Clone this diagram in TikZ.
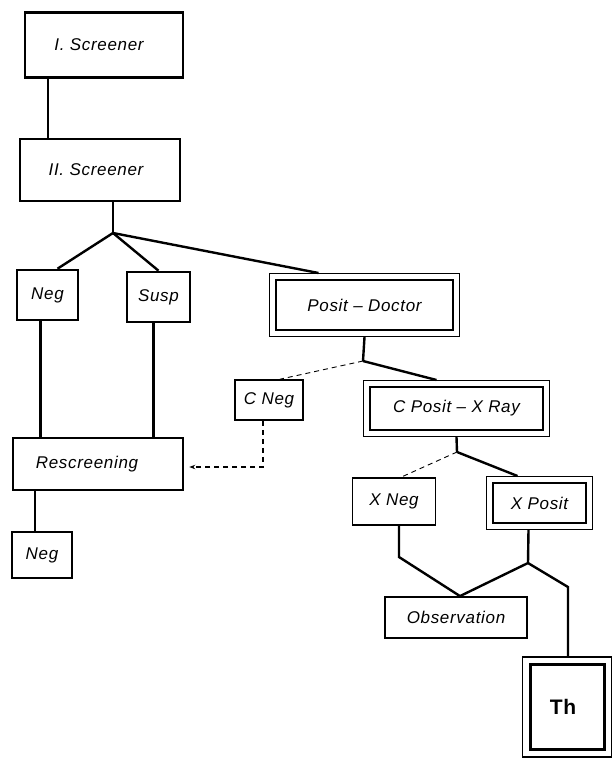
\documentclass[tikz,border=0pt]{standalone}
\usepackage{fontspec}
\setmainfont{Liberation Sans}
\newfontfamily\chartfont{Liberation Sans}[Ligatures=TeX,LetterSpace=4]
\usetikzlibrary{arrows.meta,calc,positioning,fit}
\tikzset{>=Stealth,
  every node/.style={font=\chartfont\fontsize{17}{20}\selectfont\itshape},
  stage/.style={draw,line width=2.6pt,inner sep=0pt},
  outline/.style={draw,line width=1.4pt,inner sep=5pt},
  branch/.style={draw,line width=2.4pt},
  weakbranch/.style={draw,line width=.9pt,dash pattern=on 5pt off 4pt}}
\begin{document}
\begin{tikzpicture}[x=1pt,y=-1pt]
\useasboundingbox (0,0) rectangle (611,758);
% screening stages, sized after the original chart
\node[stage,minimum width=158,minimum height=65] (scr1) at (104,45) {\hspace*{-10pt}I. Screener};
\node[stage,minimum width=160,minimum height=62] (scr2) at (100,170) {\hspace*{-8pt}II. Screener};
\node[stage,minimum width=61,minimum height=50] (neg1) at (47.5,295) {Neg};
\node[stage,minimum width=63,minimum height=50] (susp) at (158.5,297) {Susp};
\node[stage,minimum width=177,minimum height=50] (pd) at (364.5,305) {Posit -- Doctor};
\node[outline,fit=(pd)] (pdo) {};
\node[stage,line width=1.6pt,minimum width=68,minimum height=40] (cneg) at (269,400) {C Neg};
\node[stage,minimum width=173,minimum height=43] (cpx) at (456.5,408.5) {C Posit -- X Ray};
\node[outline,fit=(cpx)] (cpxo) {};
\node[stage,line width=1.6pt,minimum width=83,minimum height=47] (xneg) at (394,501.5) {X Neg};
\node[stage,minimum width=93,minimum height=40] (xpos) at (539.5,503) {X Posit};
\node[outline,fit=(xpos)] (xposo) {};
\node[stage,minimum width=170,minimum height=52] (resc) at (98,464) {\hspace*{-22pt}Rescreening};
\node[stage,minimum width=60,minimum height=46] (neg2) at (42,555) {Neg};
\node[stage,line width=1.8pt,minimum width=142,minimum height=41] (obs) at (456,617.5) {Observation};
\node[stage,line width=3pt,minimum width=74,minimum height=85,font=\chartfont\fontsize{21}{24}\selectfont\bfseries] (th) at (567,707) {\hspace*{-8pt}Th};
\node[outline,inner sep=6pt,fit=(th)] (tho) {};
\coordinate (j1) at (113,233);
\coordinate (j2) at (363,361);
\coordinate (j3) at (457,452);
\coordinate (j4) at (528,563);
\coordinate (xbend) at (399,557);
\coordinate (thbend) at (568,587);
\draw[branch] ([xshift=-56pt]scr1.south) -- ([xshift=-52pt]scr2.north);
\draw[branch] ([xshift=13pt]scr2.south) -- (j1);
\draw[branch] (j1) -- ([xshift=10pt]neg1.north);
\draw[branch] (j1) -- (susp.north);
\draw[branch] (j1) -- ([xshift=-46pt]pdo.north);
\draw[branch] ([xshift=-7pt]neg1.south) -- ([xshift=-7pt]neg1.south |- resc.north);
\draw[branch] ([xshift=-5pt]susp.south) -- ([xshift=-5pt]susp.south |- resc.north);
\draw[branch] ([xshift=-63pt]resc.south) -- ([xshift=-63pt]resc.south |- neg2.north);
\draw[branch] (pdo.south) -- (j2);
\draw[weakbranch] (j2) -- ([xshift=11pt]cneg.north);
\draw[branch] (j2) -- ([xshift=-20pt]cpxo.north);
\draw[weakbranch,line width=1.2pt,-{Stealth[length=6pt]}] ([xshift=-6pt]cneg.south) |- ([xshift=5pt,yshift=-3pt]resc.east);
\draw[branch] (cpxo.south) -- (j3);
\draw[weakbranch] (j3) -- ([xshift=7pt]xneg.north);
\draw[branch] (j3) -- ([xshift=-22pt]xposo.north);
\draw[branch] ([xshift=5pt]xneg.south) -- (xbend) -- ([xshift=4pt]obs.north);
\draw[branch] ([xshift=-11pt]xposo.south) -- (j4) -- ([xshift=4pt]obs.north);
\draw[branch] (j4) -- (thbend) -- (thbend |- tho.north);
\end{tikzpicture}
\end{document}
